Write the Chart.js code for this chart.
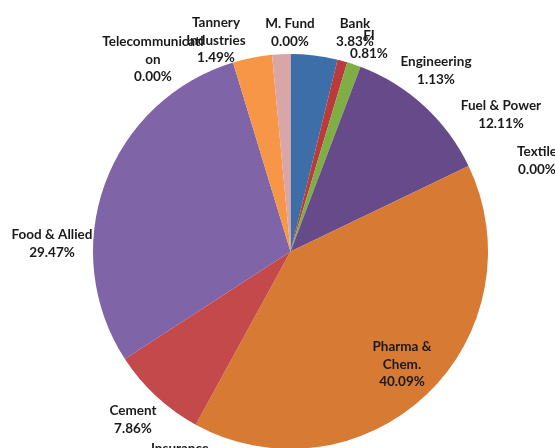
<!DOCTYPE html>
<html>
<head>
<meta charset="utf-8">
<script src="https://cdn.jsdelivr.net/npm/chart.js@4.4.1/dist/chart.umd.min.js"></script>
<style>
html,body{margin:0;padding:0;background:#fff;overflow:hidden;}
#wrap{width:555px;height:460px;position:relative;}
</style>
</head>
<body>
<div id="wrap"><canvas id="c"></canvas></div>
<script>
const categories = ["Bank","FI","Engineering","Fuel & Power","Textile","Pharma & Chem.","Insurance","Cement","Food & Allied","Telecommunication","Others","Tannery Industries","M. Fund"];
const shares = [3.83,0.81,1.13,12.11,0.00,40.09,0.00,7.86,29.47,0.00,3.21,1.49,0.00];
const colors = ["#3d6ea8","#b93b3b","#7fae45","#664a8a","#4bacc6","#d67a34","#4f81bd","#c4494a","#8064a8","#9bbb59","#f79646","#d9a6a7","#c0504d"];
// label text lines (as drawn) and anchor positions
const labelLines = [
  ["Bank","3.83%"],["FI","0.81%"],["Engineering","1.13%"],["Fuel & Power","12.11%"],["Textile","0.00%"],
  ["Pharma &","Chem.","40.09%"],["Insurance"],["Cement","7.86%"],["Food & Allied","29.47%"],
  ["Telecommunicati","on","0.00%"],[],["Tannery","Industries","1.49%"],["M. Fund","0.00%"]
];
const labelPos = [
  [355,24],[369,36],[436,62],[501,106],[537,152],
  [402,347],[180,449],[133,411],[52,235],
  [153,42],[0,0],[216,23],[290,24]
];

const labelPlugin = {
  id:'labels',
  afterDatasetsDraw(chart){
    const ctx = chart.ctx;
    ctx.save();
    ctx.font = 'bold 13.5px Lato, "Liberation Sans", sans-serif';
    ctx.fillStyle = '#1a1a1a';
    ctx.textAlign = 'center';
    ctx.textBaseline = 'middle';
    labelLines.forEach((lines,i)=>{
      const [x,y] = labelPos[i];
      lines.forEach((t,j)=>ctx.fillText(t, x, y + j*17.5));
    });
    ctx.restore();
  }
};

new Chart(document.getElementById('c'), {
  type:'pie',
  data:{labels:categories, datasets:[{data:shares, backgroundColor:colors, borderWidth:0}]},
  options:{
    responsive:true, maintainAspectRatio:false, animation:false,
    layout:{padding:{left:93,right:67,top:54,bottom:11}},
    plugins:{legend:{display:false}, tooltip:{enabled:false}}
  },
  plugins:[labelPlugin]
});
</script>
</body>
</html>
